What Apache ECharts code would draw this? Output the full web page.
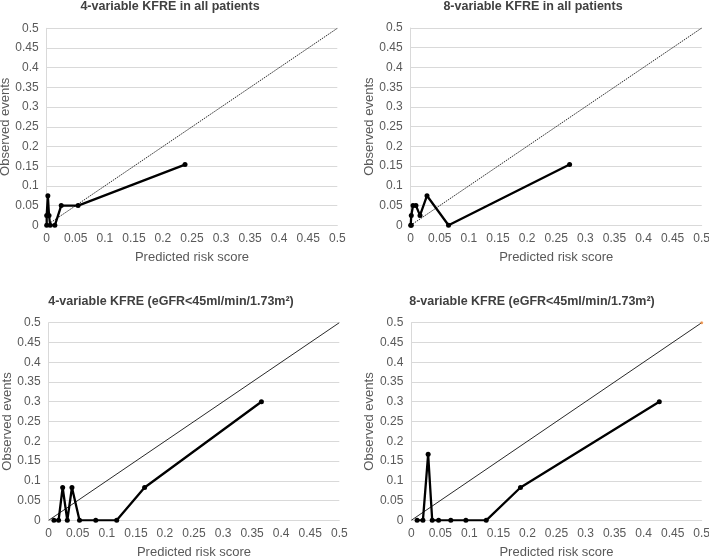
<!DOCTYPE html>
<html>
<head>
<meta charset="utf-8">
<script src="https://cdn.jsdelivr.net/npm/echarts@6/dist/echarts.min.js"></script>
<style>
html,body{margin:0;padding:0;background:#fff;}
#c{width:709px;height:556px;}
</style>
</head>
<body>
<div id="c"></div>
<script>
// Panel titles
var titles = [
  '4-variable KFRE in all patients',
  '8-variable KFRE in all patients',
  '4-variable KFRE (eGFR<45ml/min/1.73m²)',
  '8-variable KFRE (eGFR<45ml/min/1.73m²)'
];
// Predicted risk (x) and observed events (y) per panel
var p1x = [0, 0, 0.002, 0.004, 0.006, 0.014, 0.025, 0.054, 0.238];
var p1y = [0, 0.025, 0.075, 0.025, 0, 0, 0.05, 0.05, 0.154];
var p2x = [0, 0.001, 0.001, 0.004, 0.009, 0.016, 0.028, 0.065, 0.273];
var p2y = [0, 0, 0.025, 0.05, 0.05, 0.025, 0.075, 0, 0.154];
var p3x = [0.009, 0.017, 0.024, 0.032, 0.040, 0.053, 0.081, 0.117, 0.165, 0.366];
var p3y = [0, 0, 0.083, 0, 0.083, 0, 0, 0, 0.083, 0.300];
var p4x = [0.010, 0.020, 0.029, 0.036, 0.047, 0.068, 0.094, 0.129, 0.188, 0.427];
var p4y = [0, 0, 0.167, 0, 0, 0, 0, 0, 0.083, 0.300];
// Reference line of perfect calibration
var refX = [0, 0.5];
var refY = [0, 0.5];
var xTitle = 'Predicted risk score';
var yTitle = 'Observed events';

function pairs(xs, ys){ return xs.map(function(v,i){ return [v, ys[i]]; }); }
var panels = [pairs(p1x,p1y), pairs(p2x,p2y), pairs(p3x,p3y), pairs(p4x,p4y)];

var grids = [
  {left:46.7, top:28.3, width:290.6, height:197},
  {left:410.7, top:28, width:291, height:197.3},
  {left:48.7, top:322.7, width:290.6, height:197.6},
  {left:411.3, top:322.7, width:290.4, height:197.6}
].map(function(g){ g.outerBoundsMode = 'none'; g.containLabel = false; return g; });
var titleCenters = [[170,0],[533,0],[171,295],[532,295]];
var xNameGaps = [26, 26, 26, 26];

var FONT = '"Liberation Sans", Arial, sans-serif';
var opt = {
  backgroundColor:'#fff',
  animation:false,
  title: titles.map(function(t,i){
    return {text:t, left:titleCenters[i][0], top:titleCenters[i][1], textAlign:'center', padding:0,
      textStyle:{fontFamily:FONT, fontSize:12.5, fontWeight:'bold', color:'#404040'}};
  }),
  grid: grids,
  xAxis: grids.map(function(g,i){
    return {type:'value', gridIndex:i, min:0, max:0.5, interval:0.05,
      name:xTitle, nameLocation:'middle', nameGap:xNameGaps[i],
      nameTextStyle:{fontFamily:FONT, fontSize:13, color:'#595959'},
      axisLine:{show:true, lineStyle:{color:'#d9d9d9', width:1}},
      axisTick:{show:false},
      axisLabel:{fontFamily:FONT, fontSize:12, color:'#595959', margin:7},
      splitLine:{show:false}};
  }),
  yAxis: grids.map(function(g,i){
    return {type:'value', gridIndex:i, min:0, max:0.5, interval:0.05,
      name:yTitle, nameLocation:'middle', nameGap:34,
      nameTextStyle:{fontFamily:FONT, fontSize:13, color:'#595959'},
      axisLine:{show:true, lineStyle:{color:'#d9d9d9', width:1}},
      axisTick:{show:false},
      axisLabel:{fontFamily:FONT, fontSize:12, color:'#595959', margin:8},
      splitLine:{show:true, lineStyle:{color:'#d9d9d9', width:1}}};
  }),
  series: []
};
for (var i=0;i<4;i++){
  opt.series.push({type:'line', xAxisIndex:i, yAxisIndex:i, data:pairs(refX,refY),
    symbol:'none', silent:true,
    lineStyle:{color:'#111', width:0.9, type:i<2?[1.5,1]:'solid'}, z:1});
  opt.series.push({type:'line', xAxisIndex:i, yAxisIndex:i, data:panels[i],
    symbol:'circle', symbolSize:5, showSymbol:true,
    itemStyle:{color:'#000'},
    lineStyle:{color:'#000', width:2.3}, z:2});
}
// small orange end marker seen at top-right of last panel
opt.series.push({type:'scatter', xAxisIndex:3, yAxisIndex:3, data:[[0.5,0.5]],
  symbolSize:3, itemStyle:{color:'#f08c3c'}, z:3});

var chart = echarts.init(document.getElementById('c'), null, {renderer:'canvas'});
chart.setOption(opt);
</script>
</body>
</html>
